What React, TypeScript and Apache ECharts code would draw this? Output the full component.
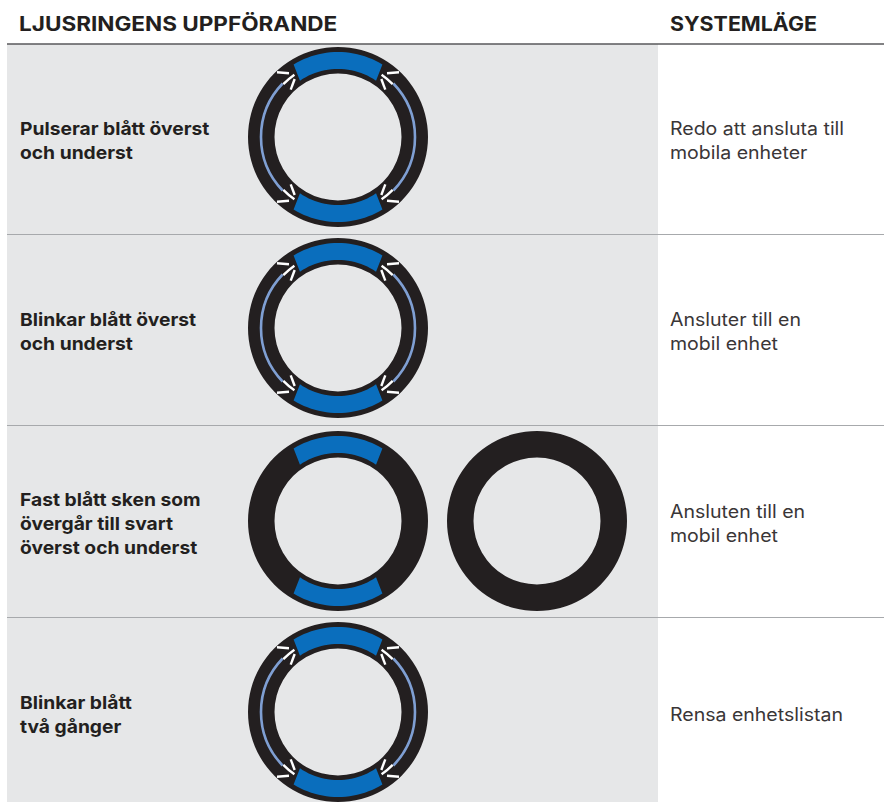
import React, { useEffect, useRef } from "react";
import * as echarts from "echarts";

const headers = ["LJUSRINGENS UPPFÖRANDE", "SYSTEMLÄGE"];
const behaviours = [
  "Pulserar blått överst\noch underst",
  "Blinkar blått överst\noch underst",
  "Fast blått sken som\növergår till svart\növerst och underst",
  "Blinkar blått\ntvå gånger",
];
const modes = [
  "Redo att ansluta till\nmobila enheter",
  "Ansluter till en\nmobil enhet",
  "Ansluten till en\nmobil enhet",
  "Rensa enhetslistan",
];
const textCentres = [140.5, 331.5, 523, 714.5];
const ringCentres = [137, 328, 521, 712];
const separators = [234.5, 425.5, 617.5];
const pulsing = [true, true, false, true];

const BLACK = "#231f20";
const BLUE = "#0a6ebd";
const PERI = "#7f9fd3";
const GREY = "#e6e7e8";

const pt = (cx: number, cy: number, r: number, deg: number) => {
  const a = (deg * Math.PI) / 180;
  return [cx + r * Math.sin(a), cy - r * Math.cos(a)];
};

const band = (cx: number, cy: number, flip: boolean) => {
  const pts: number[][] = [];
  const s = flip ? 180 : 0;
  for (let i = 0; i <= 24; i++) pts.push(pt(cx, cy, 85, s - 31.5 + (63 * i) / 24));
  for (let i = 24; i >= 0; i--) pts.push(pt(cx, cy, 68, s - 34 + (68 * i) / 24));
  return { type: "polygon", shape: { points: pts }, style: { fill: BLUE }, silent: true };
};

const line = (x1: number, y1: number, x2: number, y2: number, stroke: string, lineWidth: number) => ({
  type: "line",
  shape: { x1, y1, x2, y2 },
  style: { stroke, lineWidth },
  silent: true,
});

const arc = (cx: number, cy: number, r: number, from: number, to: number, stroke: string, lineWidth: number) => ({
  type: "arc",
  shape: {
    cx,
    cy,
    r,
    startAngle: ((from - 90) * Math.PI) / 180,
    endAngle: ((to - 90) * Math.PI) / 180,
    clockwise: true,
  },
  style: { stroke, lineWidth, fill: "none" },
  silent: true,
});

const ring = (cx: number, cy: number, detail: boolean) => {
  const out: any[] = [
    { type: "ring", shape: { cx, cy, r: 90, r0: 63.5 }, style: { fill: BLACK }, silent: true },
  ];
  if (detail) {
    out.push(arc(cx, cy, 77, 46, 134, PERI, 2.6), arc(cx, cy, 77, 226, 314, PERI, 2.6));
    for (const [a, b] of [[35, 46], [134, 145], [215, 226], [314, 325]]) {
      out.push(arc(cx, cy, 76, a, b, "#ffffff", 2.4));
    }
    for (const sx of [-1, 1]) {
      for (const sy of [-1, 1]) {
        out.push(line(cx + sx * 49, cy + sy * 63.8, cx + sx * 61, cy + sy * 64.7, "#ffffff", 2.4));
        out.push(line(cx + sx * 43.3, cy + sy * 58, cx + sx * 47.3, cy + sy * 47.3, "#ffffff", 2.4));
      }
    }
  }
  out.push(band(cx, cy, false), band(cx, cy, true));
  return out;
};

export default function App() {
  const ref = useRef<HTMLDivElement>(null);
  useEffect(() => {
    document.body.style.margin = "0";
    const chart = echarts.init(ref.current!, null, { renderer: "svg" });
    const elements: any[] = [
      { type: "rect", shape: { x: 7, y: 44, width: 651, height: 758 }, style: { fill: GREY }, silent: true },
      line(7, 44, 884, 44, "#58595b", 1.5),
      ...separators.map((y) => line(7, y, 884, y, "#a7a9ac", 1)),
      { type: "text", x: 19, y: 24, scaleX: 1.156, style: { text: headers[0], fill: BLACK, font: '700 19.5px "Inter"', textVerticalAlign: "middle" } },
      { type: "text", x: 670, y: 24, scaleX: 1.097, style: { text: headers[1], fill: BLACK, font: '700 19.5px "Inter"', textVerticalAlign: "middle" } },
    ];
    behaviours.forEach((t, i) => {
      elements.push({
        type: "text", x: 20, y: textCentres[i], scaleX: 1.07,
        style: { text: t, fill: BLACK, font: '700 18px "Inter"', lineHeight: 24, textVerticalAlign: "middle" },
      });
      elements.push({
        type: "text", x: 670, y: textCentres[i] + 0.5, scaleX: 1.085,
        style: { text: modes[i], fill: "#3a3637", font: '400 18px "Inter"', lineHeight: 24, textVerticalAlign: "middle" },
      });
      elements.push(...ring(338, ringCentres[i], pulsing[i]));
    });
    elements.push(...ring(537, ringCentres[2], false).slice(0, 1));
    chart.setOption({ animation: false, graphic: { elements } });
    return () => chart.dispose();
  }, []);
  return <div ref={ref} style={{ width: 884, height: 802 }} />;
}
